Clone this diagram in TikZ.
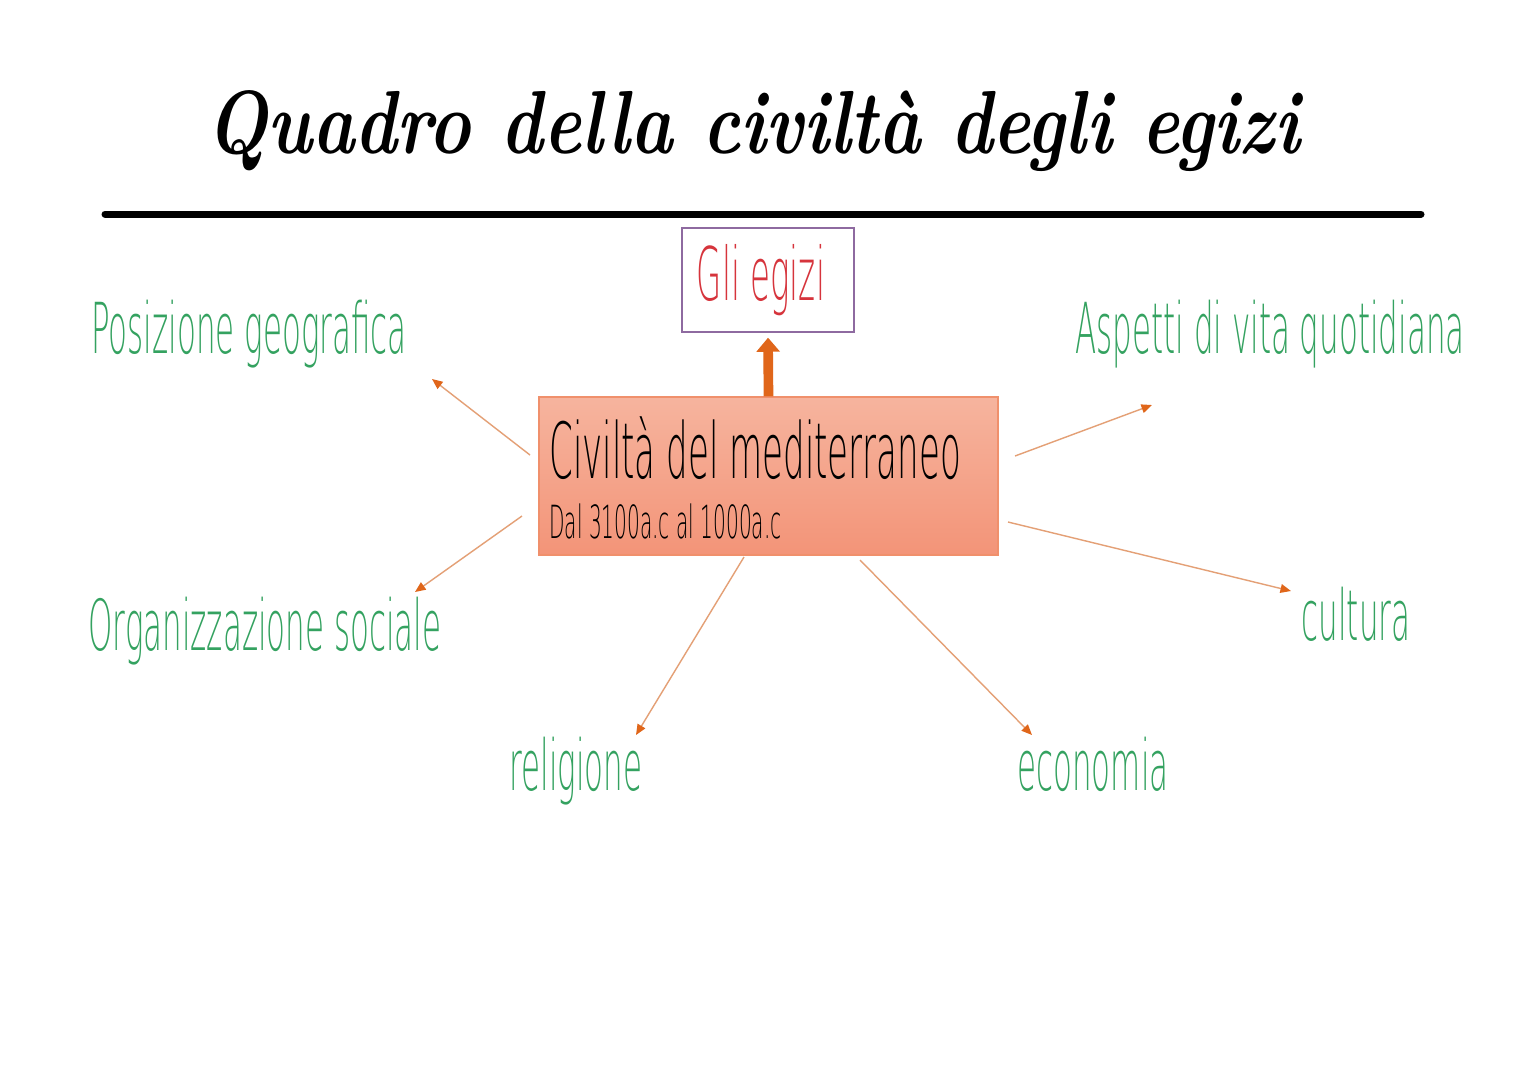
\documentclass[tikz,border=0pt]{standalone}
\usepackage{fontspec}
\usetikzlibrary{arrows.meta}
\newfontfamily\sottile{DejaVu Sans ExtraLight}[FakeStretch=0.44]
\newfontfamily\titolofont{Latin Modern Roman}[FakeStretch=0.8]
\definecolor{verde}{RGB}{52,162,96}
\definecolor{rosso}{RGB}{214,52,60}
\definecolor{viola}{RGB}{142,106,160}
\definecolor{arancio}{RGB}{224,102,26}
\definecolor{filo}{RGB}{228,160,118}
\definecolor{salmonetop}{RGB}{246,180,158}
\definecolor{salmonebot}{RGB}{243,148,120}
\definecolor{bordosal}{RGB}{240,144,108}
\tikzset{
  voce/.style={text=verde, inner sep=0pt, anchor=base,
    font=\sottile\fontsize{40}{40}\selectfont},
  freccia/.style={draw=filo, line width=0.8pt,
    -{Triangle[length=6pt,width=5pt,color=arancio]}},
}
\begin{document}
\begin{tikzpicture}[x=0.02cm,y=-0.02cm]
      \useasboundingbox[fill=white] (0,0) rectangle (1526,1080);
      % titolo
      \node[inner sep=0pt, anchor=base] (titolo) at (753,153)
        {\titolofont\fontsize{51}{51}\selectfont\bfseries\itshape Quadro della civilt\`a degli egizi};
      \draw[line width=0.14cm, line cap=round] (105,214) -- (1421,214);
      % riquadri
      \node[draw=viola, line width=0.8pt, minimum width=3.44cm, minimum height=2.08cm,
        inner sep=0pt] (egizi) at (768,280) {};
      \node[text=rosso, inner sep=0pt, anchor=base, font=\sottile\fontsize{42}{42}\selectfont]
        (gli) at (761,300) {Gli egizi};
      \node[draw=bordosal, line width=0.8pt, top color=salmonetop, bottom color=salmonebot,
        minimum width=9.18cm, minimum height=3.16cm, inner sep=0pt] (civilta) at (768.5,476) {};
      \node[inner sep=0pt, anchor=base west, font=\sottile\fontsize{44}{44}\selectfont]
        (medit) at (549,478) {Civilt\`a del mediterraneo};
      \node[inner sep=0pt, anchor=base west, font=\sottile\fontsize{26}{26}\selectfont]
        (date) at (549,538) {Dal 3100a.c al 1000a.c};
      \draw[draw=arancio, line width=5.5pt, -{Triangle[length=8pt,width=13pt]},
        shorten >=0.1cm] (civilta.north) -- (egizi.south);
      % voci
      \node[voce] (posizione) at (249,353) {Posizione geografica};
      \node[voce] (aspetti) at (1270,353) {Aspetti di vita quotidiana};
      \node[voce] (organizzazione) at (265,650) {Organizzazione sociale};
      \node[voce] (cultura) at (1356,640) {cultura};
      \node[voce] (religione) at (576,790) {religione};
      \node[voce] (economia) at (1093,790) {economia};
      % estremi delle frecce
      \coordinate (pos-a) at (530,455);  \coordinate (pos-b) at (432,379);
      \coordinate (org-a) at (522,516);  \coordinate (org-b) at (415,592);
      \coordinate (rel-a) at (744,557);  \coordinate (rel-b) at (636,735);
      \coordinate (eco-a) at (860,560);  \coordinate (eco-b) at (1032,735);
      \coordinate (asp-a) at (1015,456); \coordinate (asp-b) at (1152,405);
      \coordinate (cul-a) at (1008,522); \coordinate (cul-b) at (1291,591);
      \draw[freccia] (pos-a) -- (pos-b);
      \draw[freccia] (org-a) -- (org-b);
      \draw[freccia] (rel-a) -- (rel-b);
      \draw[freccia] (eco-a) -- (eco-b);
      \draw[freccia] (asp-a) -- (asp-b);
      \draw[freccia] (cul-a) -- (cul-b);
\end{tikzpicture}
\end{document}
